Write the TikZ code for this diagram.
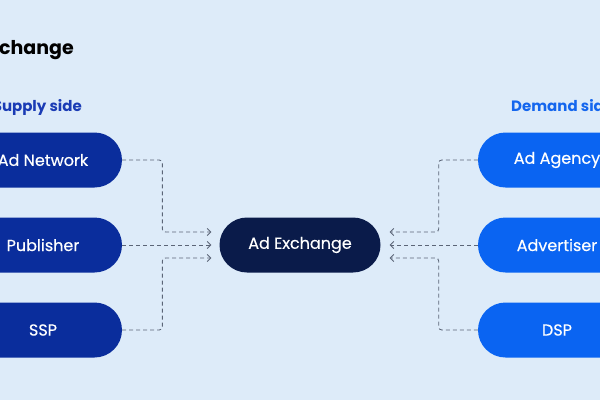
\documentclass[tikz,border=0pt]{standalone}
\usepackage{fontspec}
\setmainfont{Poppins}
\newfontfamily\medfont{Poppins}[FakeBold=0.35]
\usetikzlibrary{arrows.meta,calc}
\definecolor{bgc}{HTML}{DDEBF9}
\definecolor{supc}{HTML}{0A2D9C}
\definecolor{demc}{HTML}{0A64F2}
\definecolor{ctrc}{HTML}{0A1B4A}
\definecolor{linec}{HTML}{5B6577}
\definecolor{suplab}{HTML}{1A3BB5}
\definecolor{demlab}{HTML}{1466EE}
\tikzset{
  pill/.style={rectangle, rounded corners=27.5pt, minimum width=158pt, minimum height=55pt, inner sep=0pt, text=white, font=\medfont\fontsize{16}{18}\selectfont},
  suppill/.style={pill, fill=supc},
  dempill/.style={pill, fill=demc},
  ctrpill/.style={pill, fill=ctrc, minimum width=161pt},
  conn/.style={draw=linec, line width=0.9pt, dash pattern=on 4pt off 3pt, rounded corners=3pt, -{Straight Barb[length=3.5pt,width=7pt]}},
  sidelab/.style={font=\fontsize{15}{18}\selectfont\bfseries, inner sep=0pt},
}
\begin{document}
\begin{tikzpicture}[x=1pt,y=-1pt]
\useasboundingbox[fill=bgc] (0,0) rectangle (600,400);
\node[anchor=base east, inner sep=0pt, font=\fontsize{19}{22}\selectfont\bfseries, text=black] (title) at (74,54) {Ad Exchange};
\node[sidelab, anchor=base east, text=suplab] (suplbl) at (82,111) {Supply side};
\node[sidelab, anchor=base west, text=demlab] (demlbl) at (511,111) {Demand side};

\node[suppill] (an) at (43,160) {\raisebox{-1pt}{Ad Network}};
\node[suppill] (pb) at (43,245) {\raisebox{-1pt}{Publisher}};
\node[suppill] (ssp) at (43,330) {\raisebox{-1pt}{SSP}};

\node[dempill] (ag) at (557,160) {\raisebox{-1pt}{Ad Agency}};
\node[dempill] (adv) at (557,245) {\raisebox{-1pt}{Advertiser}};
\node[dempill] (dsp) at (557,330) {\raisebox{-1pt}{DSP}};

\node[ctrpill] (ax) at (300,245) {\raisebox{-1pt}{Ad Exchange}};

\draw[conn] (an.east) -| ($(ax.west)+(-57,-13)$) -- ($(ax.west)+(-8,-13)$);
\draw[conn] (pb.east) -- ($(ax.west)+(-8,0)$);
\draw[conn] (ssp.east) -| ($(ax.west)+(-57,13)$) -- ($(ax.west)+(-8,13)$);

\draw[conn] (ag.west) -| ($(ax.east)+(58,-13)$) -- ($(ax.east)+(9,-13)$);
\draw[conn] (adv.west) -- ($(ax.east)+(9,0)$);
\draw[conn] (dsp.west) -| ($(ax.east)+(58,13)$) -- ($(ax.east)+(9,13)$);
\end{tikzpicture}
\end{document}
